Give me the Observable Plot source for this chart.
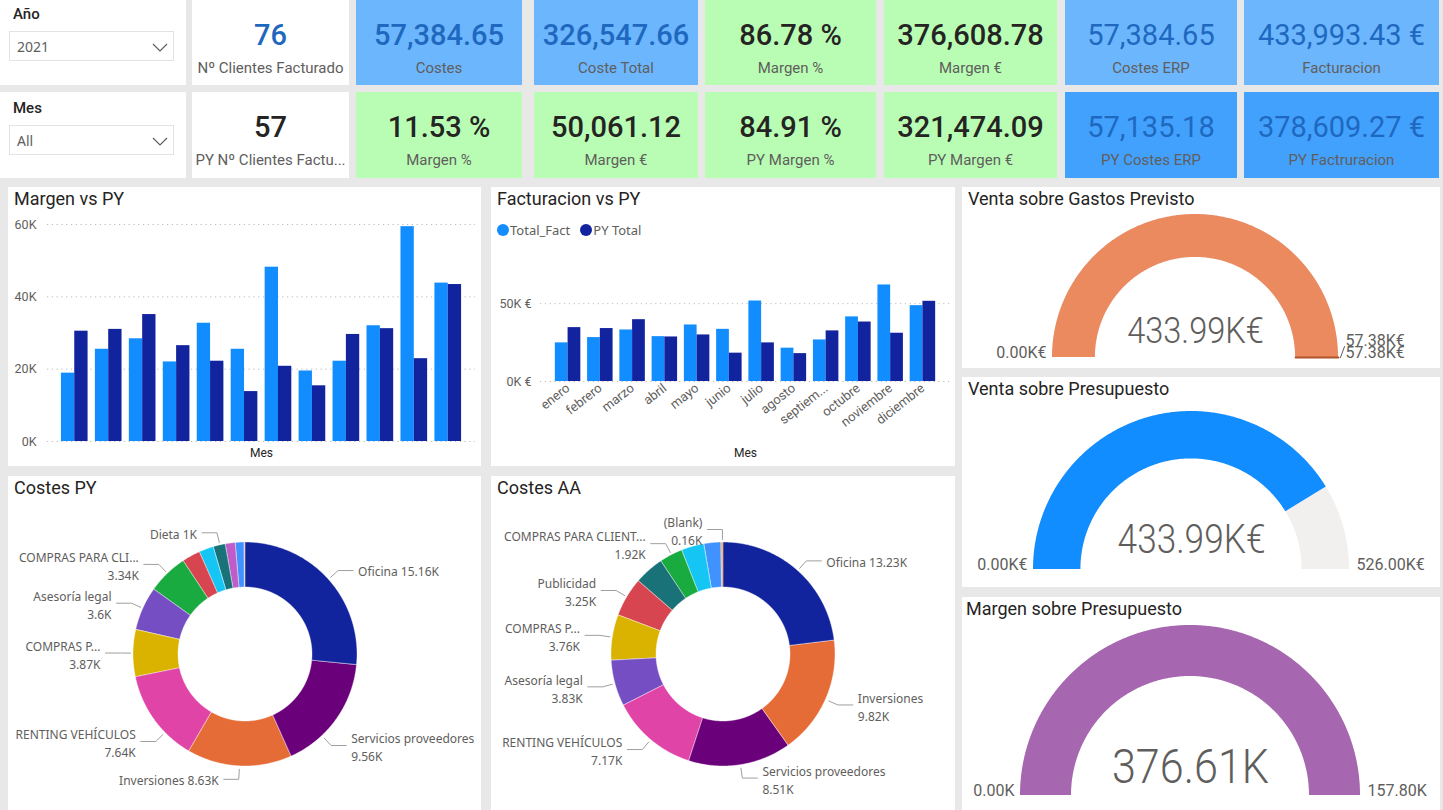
<!DOCTYPE html>
<html><head><meta charset="utf-8">
<script src="https://cdn.jsdelivr.net/npm/d3@7"></script>
<script src="https://cdn.jsdelivr.net/npm/@observablehq/plot@0.6"></script>
<style>
html,body{margin:0;padding:0;}
body{background:#e8e8e8;width:1443px;height:810px;overflow:hidden;position:relative;font-family:Roboto,"Noto Sans",sans-serif;}
.panel{position:absolute;background:#fff;overflow:hidden;}
.val{position:absolute;left:0;right:0;text-align:center;font-size:29px;font-weight:500;line-height:30px;white-space:nowrap;}
.lab{position:absolute;left:0;right:0;text-align:center;font-size:15px;color:#605e5c;line-height:18px;white-space:nowrap;}
.ptitle{position:absolute;left:6px;top:0;line-height:24px;font-size:18px;color:#252423;white-space:nowrap;}
.panel svg{position:absolute;left:0;top:0;}
.slt{position:absolute;left:13px;font-size:15px;font-weight:500;color:#252423;line-height:20px;}
.dd{position:absolute;left:9px;width:165px;height:30px;border:1px solid #e3e3e3;box-sizing:border-box;}
.dd span{position:absolute;left:7px;top:0;line-height:29px;font-size:14px;color:#605e5c;font-family:"Noto Sans",sans-serif;}
.legend{position:absolute;top:34px;left:6px;font-family:"Noto Sans",sans-serif;font-size:13px;color:#605e5c;white-space:nowrap;}
.legend i{display:inline-block;width:12px;height:12px;border-radius:50%;vertical-align:-1px;margin-right:1px;}
.legend b{display:inline-block;width:10px;}
</style></head><body>
<script>
// ---------------- DATA ----------------
const kpiLabels = ["Nº Clientes Facturado","Costes","Coste Total","Margen %","Margen €","Costes ERP","Facturacion",
                   "PY Nº Clientes Factu...","Margen %","Margen €","PY Margen %","PY Margen €","PY Costes ERP","PY Factruracion"];
const kpiValues = ["76","57,384.65","326,547.66","86.78 %","376,608.78","57,384.65","433,993.43 €",
                   "57","11.53 %","50,061.12","84.91 %","321,474.09","57,135.18","378,609.27 €"];
const slicerTitles = ["Año","Mes"];
const slicerValues = ["2021","All"];

const months = ["enero","febrero","marzo","abril","mayo","junio","julio","agosto","septiembre","octubre","noviembre","diciembre"];
const margenActual = [18900,25500,28400,22000,32700,25500,48200,19500,22200,32000,59400,43800];
const margenPY     = [30500,31000,35100,26500,22200,13800,20800,15400,29600,31200,22900,43400];
const factActual   = [24800,28200,33100,28800,36300,33500,51700,21400,26700,41500,62000,48700];
const factPY       = [34600,34000,39700,28600,29900,18200,24800,17900,32500,38200,31000,51500];
const seriesNames  = ["Total_Fact","PY Total"];
const margenTicks = [0,20000,40000,60000];
const factTicks = [0,50000];

const pyCats   = ["Oficina","Servicios proveedores","Inversiones","RENTING VEHÍCULOS","COMPRAS P","Asesoría legal","COMPRAS PARA CLIENTES","Publicidad","Otros 1","Dieta","Otros 2","Otros 3","(Blank)"];
const pyValues = [15160,9560,8630,7640,3870,3600,3340,1500,1200,1000,820,720,50];
const pyLabels = ["Oficina","Servicios proveedores","Inversiones","RENTING VEHÍCULOS","COMPRAS P...","Asesoría legal","COMPRAS PARA CLI...","","","Dieta","","",""];
const aaCats   = ["Oficina","Inversiones","Servicios proveedores","RENTING VEHÍCULOS","Asesoría legal","COMPRAS P","Publicidad","Dieta","COMPRAS PARA CLIENTES","Otros 1","Otros 3","(Blank)"];
const aaValues = [13230,9820,8510,7170,3830,3760,3250,2460,1920,1880,1390,160];
const aaLabels = ["Oficina","Inversiones","Servicios proveedores","RENTING VEHÍCULOS","Asesoría legal","COMPRAS P...","Publicidad","","COMPRAS PARA CLIENT...","","","(Blank)"];

const gaugeTitles = ["Venta sobre Gastos Previsto","Venta sobre Presupuesto","Margen sobre Presupuesto"];
const gaugeValues = [433.99, 433.99, 376.61];
const gaugeMax    = [57.38, 526.00, 157.80];
const gaugeTarget = [57.38, null, null];
const gaugeUnits  = ["K€","K€","K"];

// ---------------- STYLE / LAYOUT ----------------
const catColor = {"Oficina":"#12239E","Servicios proveedores":"#6B007B","Inversiones":"#E66C37","RENTING VEHÍCULOS":"#E044A7",
  "COMPRAS P":"#D9B300","Asesoría legal":"#744EC2","COMPRAS PARA CLIENTES":"#1AAB40","Publicidad":"#D64550",
  "Otros 1":"#15C6F4","Dieta":"#197278","Otros 2":"#BE5DC9","Otros 3":"#4092FF","(Blank)":"#FFA058"};
const LIGHT="#118DFF", DARK="#12239E";
const cols = [[192,349],[356,522],[534,698],[705,876],[884,1057],[1065,1237],[1244,1439]];
const rowsY = [[0,85],[92,178]];
const LB="#6cb6fd", GR="#b9fdb4", DB="#42a1fd", BLUE_T="#1f68c0", DARK_T="#252423";
const cardBg = [["#fff",LB,LB,GR,GR,LB,LB],["#fff",GR,GR,GR,GR,DB,DB]];
const cardFg = [[BLUE_T,BLUE_T,BLUE_T,DARK_T,DARK_T,BLUE_T,BLUE_T],[DARK_T,DARK_T,DARK_T,DARK_T,DARK_T,BLUE_T,BLUE_T]];

function panel(x1,y1,x2,y2,bg){
  const d=document.createElement("div");d.className="panel";
  Object.assign(d.style,{left:x1+"px",top:y1+"px",width:(x2-x1)+"px",height:(y2-y1)+"px",background:bg||"#fff"});
  document.body.appendChild(d);return d;
}
function title(p,t,left){const d=document.createElement("div");d.className="ptitle";d.textContent=t;if(left!=null)d.style.left=left+"px";p.appendChild(d);}

// slicers
slicerTitles.forEach((t,i)=>{
  const [y1,y2]=rowsY[i]; const p=panel(0,y1,186,y2);
  const a=document.createElement("div");a.className="slt";a.style.top=(4+i*2)+"px";a.textContent=t;p.appendChild(a);
  const dd=document.createElement("div");dd.className="dd";dd.style.top=(31+i*2)+"px";
  dd.innerHTML=`<span>${slicerValues[i]}</span><svg width="20" height="12" style="left:141px;top:10px"><polyline points="2,2 9,9 16,2" fill="none" stroke="#605e5c" stroke-width="1.2"/></svg>`;
  p.appendChild(dd);
});
// KPI cards
kpiValues.forEach((v,k)=>{
  const row=Math.floor(k/7), c=k%7; const [x1,x2]=cols[c]; const [y1,y2]=rowsY[row];
  const p=panel(x1,y1,x2,y2,cardBg[row][c]);
  const a=document.createElement("div");a.className="val";a.style.top="20px";a.style.color=cardFg[row][c];a.textContent=v;
  if(c>=5) a.style.fontWeight="400";
  p.appendChild(a);
  const b=document.createElement("div");b.className="lab";b.style.top="59px";b.textContent=kpiLabels[k];p.appendChild(b);
});

// grouped bar charts
function grouped(p,{W,H,ml,mr,mt,mb,pi,po,ydom,ticks,fmt,tickPad,a,b,rot,mesDy}){
  const rows=months.map((m,i)=>({mes:m,a:a[i],b:b[i]}));
  const band=d3.scaleBand(months,[ml,W-mr]).paddingInner(pi).paddingOuter(po);
  const half=band.bandwidth()/2;
  const marks=[
    Plot.gridY(ticks,{stroke:"#bdbbb9",strokeOpacity:1,strokeDasharray:"1.2,3.6"}),
    Plot.axisY(ticks,{tickSize:0,tickPadding:tickPad,tickFormat:fmt,fill:"#605e5c",fontSize:12.5,label:null}),
    Plot.barY(rows,{x:"mes",y:"a",fill:LIGHT,insetRight:half}),
    Plot.barY(rows,{x:"mes",y:"b",fill:DARK,insetLeft:half}),
    Plot.text(["Mes"],{text:d=>d,frameAnchor:"bottom",dy:mesDy,fill:"#252423",fontSize:12})
  ];
  if(rot) marks.push(Plot.axisX({tickSize:0,tickRotate:-38,tickPadding:5,fontSize:13,fill:"#605e5c",label:null,
      tickFormat:d=>d.length>9?d.slice(0,7)+"...":d}));
  const svg=Plot.plot({width:W,height:H,marginLeft:ml,marginRight:mr,marginTop:mt,marginBottom:mb,
    x:{domain:months,paddingInner:pi,paddingOuter:po,round:false,axis:rot?undefined:null},
    y:{domain:ydom},
    style:{fontFamily:"Roboto",background:"transparent",maxWidth:"none"},marks});
  p.appendChild(svg);
}
{
  const p=panel(8,187,481,466); title(p,"Margen vs PY");
  grouped(p,{W:473,H:279,ml:39,mr:6,mt:37,mb:25,pi:0.215,po:0.41,ydom:[0,60000],ticks:margenTicks,
    fmt:d=>d/1000+"K",tickPad:11,a:margenActual,b:margenPY,rot:false,mesDy:15});
}
{
  const p=panel(491,187,955,466); title(p,"Facturacion vs PY");
  grouped(p,{W:464,H:279,ml:49,mr:5,mt:85,mb:85,pi:0.21,po:0.46,ydom:[0,70000],ticks:factTicks,
    fmt:d=>d/1000+"K €",tickPad:9,a:factActual,b:factPY,rot:true,mesDy:75});
  const lg=document.createElement("div");lg.className="legend";
  lg.innerHTML=`<i style="background:${LIGHT}"></i>${seriesNames[0]}<b></b><i style="background:${DARK}"></i>${seriesNames[1]}`;
  p.appendChild(lg);
}

// ring helper
function ring(id,a0,a1,R,r){
  const n=Math.max(2,Math.ceil(Math.abs(a1-a0)/(Math.PI/360)));
  return d3.range(n+1).map(k=>{const a=a0+(a1-a0)*k/n;return{id,x1:R*Math.sin(a),y1:-R*Math.cos(a),x2:r*Math.sin(a),y2:-r*Math.cos(a)};});
}
const ctx=document.createElement("canvas").getContext("2d");ctx.font="12px 'Noto Sans'";
const kfmt=v=>d3.format(".2~f")(v/1000)+"K";

function donut(p,cats,vals,labels,W,H,cx,cy,R,r){
  const pie=d3.pie().sort(null).value(d=>d.v)(cats.map((c,i)=>({c,v:vals[i],label:labels[i]})));
  const pts=pie.flatMap(s=>ring(s.data.c,s.startAngle,s.endAngle,R,r));
  const geom=(a,right)=>{const sn=Math.sin(a),cs=Math.cos(a);
    const e={x:(R+13)*sn,y:-(R+13)*cs}, st={x:(R+3)*sn,y:-(R+3)*cs};
    const end={x:e.x+(right?15:-15),y:e.y}; return {e,st,end,tx:end.x+(right?5:-5)};};
  const fits=(g,right,w,m)=>right?g.tx+w<=W-cx-m:g.tx-w>=-cx+m;
  const L=[];
  pie.forEach(s=>{
    if(!s.data.label) return;
    const a=(s.startAngle+s.endAngle)/2, right=Math.sin(a)>=0;
    const name=s.data.label, val=kfmt(s.data.v);
    const w1=ctx.measureText(name+" "+val).width;
    const w2=Math.max(ctx.measureText(name).width,ctx.measureText(val).width);
    const g=geom(a,right);
    const bx=w=>right?[g.tx,g.tx+w]:[g.tx-w,g.tx];
    L.push({name,val,a,right,w1,w2,g,b2:{x:bx(w2),y:[g.e.y-18,g.e.y+18]},b1:{x:bx(w1),y:[g.e.y-8,g.e.y+8]}});
  });
  const ov=(A,B)=>A.x[0]<B.x[1]&&B.x[0]<A.x[1]&&A.y[0]<B.y[1]&&B.y[0]<A.y[1];
  L.forEach(l=>{
    l.single=l.w1<=110&&fits(l.g,l.right,l.w1,20)&&!L.some(o=>o!==l&&ov(l.b1,o.b2));
    const w=l.single?l.w1:l.w2;
    // slide the label along the ring toward the nearest pole until it fits inside the panel
    let a=l.a, g=l.g; const pole=Math.cos(a)<0?Math.PI:(a>Math.PI?2*Math.PI:0);
    let k=0; while(!fits(g,l.right,w,7)&&k<120){a+=(pole-a)>0?Math.PI/360:-Math.PI/360;g=geom(a,l.right);k++;}
    l.g=g;
    l.text=l.single?l.name+" "+l.val:l.name+"\n"+l.val;
    l.x=g.tx;l.y=g.e.y+(l.single?0:1);
  });
  const leaders=L.flatMap((l,i)=>[{i,...l.g.st},{i,...l.g.e},{i,...l.g.end}]);
  const svg=Plot.plot({width:W,height:H,margin:0,
    x:{type:"linear",domain:[-cx,W-cx],range:[0,W],axis:null},
    y:{type:"linear",domain:[-cy,H-cy],range:[0,H],axis:null},
    color:{domain:cats,range:cats.map(c=>catColor[c])},
    style:{background:"transparent",maxWidth:"none"},
    marks:[
      Plot.area(pts,{x1:"x1",y1:"y1",x2:"x2",y2:"y2",z:"id",fill:"id",stroke:"#fff",strokeWidth:0.4}),
      Plot.line(leaders,{x:"x",y:"y",z:"i",stroke:"#a19f9d",strokeWidth:1}),
      Plot.text(L.filter(l=>l.right),{x:"x",y:"y",text:"text",textAnchor:"start",lineAnchor:"middle",lineHeight:1.5,fontSize:12,fontFamily:"Noto Sans",fill:"#605e5c"}),
      Plot.text(L.filter(l=>!l.right),{x:"x",y:"y",text:"text",textAnchor:"end",lineAnchor:"middle",lineHeight:1.5,fontSize:12,fontFamily:"Noto Sans",fill:"#605e5c"})
    ]});
  p.appendChild(svg);
}
{
  const p=panel(8,476,481,810); title(p,"Costes PY");
  donut(p,pyCats,pyValues,pyLabels,473,334,237,178,112,67);
}
{
  const p=panel(491,476,955,810); title(p,"Costes AA");
  donut(p,aaCats,aaValues,aaLabels,464,334,232,178,112,67);
}

// gauges
const gaugeColors=["#EB895F",LIGHT,"#A666B0"];
const gaugePanels=[[187,368],[377,587],[597,810]];
const gaugeGeom=[{cx:233,cy:170,R:143,fs:37,vdy:-15},{cx:229,cy:192,R:158,fs:40,vdy:-17},{cx:228,cy:198,R:170,fs:49,vdy:-13}];
gaugeTitles.forEach((t,i)=>{
  const [y1,y2]=gaugePanels[i]; const W=478,H=y2-y1; const p=panel(962,y1,1440,y2); title(p,t,i===2?4:6);
  const {cx,cy,R,fs,vdy}=gaugeGeom[i]; const r=R*0.7;
  const ang=d3.scaleLinear([0,gaugeMax[i]],[-Math.PI/2,Math.PI/2]).clamp(true);
  const f=v=>d3.format(".2f")(v)+gaugeUnits[i];
  const marks=[
    Plot.area(ring("bg",-Math.PI/2,Math.PI/2,R,r),{x1:"x1",y1:"y1",x2:"x2",y2:"y2",fill:"#f1f0ef"}),
    Plot.area(ring("fg",-Math.PI/2,ang(gaugeValues[i]),R,r),{x1:"x1",y1:"y1",x2:"x2",y2:"y2",fill:gaugeColors[i]}),
    Plot.text([{x:0,y:0,t:f(gaugeValues[i])}],{x:"x",y:"y",text:"t",dy:vdy,lineAnchor:"bottom",fontSize:fs,fontWeight:300,fill:"#605e5c",fontFamily:"Roboto"}),
    Plot.text([{x:-R,y:0,t:f(0)}],{x:"x",y:"y",text:"t",dx:-6,textAnchor:"end",lineAnchor:"bottom",fontSize:16,fill:"#605e5c",fontFamily:"Roboto"}),
    Plot.text([{x:R,y:0,t:f(gaugeMax[i])}],{x:"x",y:"y",text:"t",dx:7,textAnchor:"start",lineAnchor:"bottom",fontSize:16,fill:"#605e5c",fontFamily:"Roboto"})
  ];
  if(gaugeTarget[i]!=null){
    const a=ang(gaugeTarget[i]); const ox=R*Math.sin(a), oy=-R*Math.cos(a);
    marks.push(Plot.line([{x:r*Math.sin(a),y:-r*Math.cos(a)},{x:ox,y:oy}],{x:"x",y:"y",stroke:"#b0552a",strokeWidth:2}));
    marks.push(Plot.line([{x:ox+2,y:oy},{x:ox+6,y:oy-11}],{x:"x",y:"y",stroke:"#605e5c",strokeWidth:1}));
    marks.push(Plot.text([{x:ox,y:oy,t:f(gaugeTarget[i])}],{x:"x",y:"y",text:"t",dx:7,dy:-12,textAnchor:"start",lineAnchor:"bottom",fontSize:16,fill:"#605e5c",fontFamily:"Roboto"}));
  }
  const svg=Plot.plot({width:W,height:H,margin:0,
    x:{type:"linear",domain:[-cx,W-cx],range:[0,W],axis:null},
    y:{type:"linear",domain:[-cy,H-cy],range:[0,H],axis:null},
    style:{background:"transparent",maxWidth:"none"},marks});
  p.appendChild(svg);
  svg.querySelectorAll("text").forEach(tx=>{
    if(tx.textContent===f(gaugeValues[i])&&tx.closest("g").getAttribute("font-size")==String(fs)){
      const Lw=tx.getComputedTextLength();tx.setAttribute("textLength",Lw*0.88);tx.setAttribute("lengthAdjust","spacingAndGlyphs");
    }
  });
});
</script></body></html>
